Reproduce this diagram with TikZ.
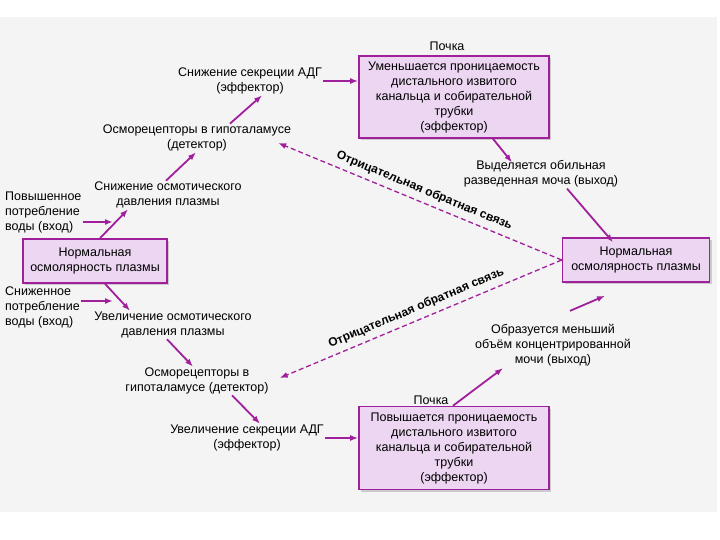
\documentclass[tikz,border=0pt]{standalone}
\usepackage{fontspec}
\setmainfont{Liberation Sans}
\usepackage{tikz}
\usetikzlibrary{arrows.meta,positioning,shadows}
\usepackage{xcolor}
\definecolor{plum}{HTML}{A0209C}
\definecolor{lilac}{HTML}{ECD6F2}
\definecolor{paper}{HTML}{F4F4F4}

\tikzset{
  box/.style={draw=plum, fill=lilac, line width=1.6pt, align=center, inner sep=2pt,
    drop shadow={opacity=0.35, shadow xshift=2pt, shadow yshift=-2pt}},
  lbl/.style={align=center, inner sep=1pt},
  arr/.style={draw=plum, line width=1.8pt, -{Latex[length=8pt,width=6pt]}},
  fb/.style={draw=plum, line width=1.3pt, dashed, dash pattern=on 5pt off 3pt, -{Latex[length=8pt,width=6pt]}}
}

\begin{document}
\begin{tikzpicture}[x=1pt, y=-1pt, font=\fontsize{12.5}{15}\selectfont]
  \useasboundingbox (0,0) rectangle (720,540);
  \fill[paper] (0,17) rectangle (717,512);

  % upper branch
  \node[lbl] (kid1) at (447,46) {Почка};
  \node[box, minimum width=190pt, minimum height=82pt] (box1) at (454,97) {Уменьшается проницаемость\\дистального извитого\\канальца и собирательной\\трубки\\(эффектор)};
  \node[lbl] (adg1) at (250,81) {Снижение секреции АДГ\\(эффектор)};
  \node[lbl] (osm1) at (197,138) {Осморецепторы в гипоталамусе\\(детектор)};
  \node[lbl] (dav1) at (168,195) {Снижение осмотического\\давления плазмы};
  \node[lbl, anchor=west, align=left] (in1) at (4,212) {Повышенное\\потребление\\воды (вход)};
  \node[lbl] (out1) at (541,174) {Выделяется обильная\\разведенная моча (выход)};

  % normal states
  \node[box, minimum width=144pt, minimum height=44pt] (lnorm) at (95,261) {Нормальная\\осмолярность плазмы};
  \node[box, minimum width=147pt, minimum height=44pt] (rnorm) at (636,260) {Нормальная\\осмолярность плазмы};

  % lower branch
  \node[lbl, anchor=west, align=left] (in2) at (4,307) {Сниженное\\потребление\\воды (вход)};
  \node[lbl] (dav2) at (173,325) {Увеличение осмотического\\давления плазмы};
  \node[lbl] (osm2) at (197,381) {Осморецепторы в\\гипоталамусе (детектор)};
  \node[lbl] (adg2) at (247,438) {Увеличение секреции АДГ\\(эффектор)};
  \node[lbl] (kid2) at (431,400) {Почка};
  \node[box, minimum width=190pt, minimum height=83pt] (box2) at (454,448) {Повышается проницаемость\\дистального извитого\\канальца и собирательной\\трубки\\(эффектор)};
  \node[lbl] (out2) at (553,345) {Образуется меньший\\объём концентрированной\\мочи (выход)};

  \coordinate (m1) at (113,222);
  \coordinate (m2) at (113,301);

  \draw[arr] (in1.east |- m1) -- (m1);
  \draw[arr] ([xshift=5pt]lnorm.north) -- ([xshift=-40pt]dav1.south);
  \draw[arr] ([xshift=-2pt]dav1.north) -- ([xshift=-1pt]osm1.south);
  \draw[arr] ([xshift=33pt]osm1.north) -- ([xshift=12pt]adg1.south);
  \draw[arr] (adg1.east) -- (adg1.east -| box1.west);
  \draw[arr] ([xshift=39pt]box1.south) -- ([xshift=-29pt,yshift=-3pt]out1.north);
  \draw[arr] ([xshift=26pt]out1.south) -- ([xshift=-23pt,yshift=-5pt]rnorm.north);

  \draw[arr] (in2.east |- m2) -- (m2);
  \draw[arr] ([xshift=10pt]lnorm.south) -- ([xshift=-43pt]dav2.north);
  \draw[arr] ([xshift=-6pt]dav2.south) -- ([xshift=-4pt]osm2.north);
  \draw[arr] ([xshift=35pt]osm2.south) -- ([xshift=13pt]adg2.north);
  \draw[arr] (adg2.east) -- (adg2.east -| box2.west);
  \draw[arr] ([xshift=-1pt]box2.north) -- ([xshift=-50pt,yshift=-1pt]out2.south);
  \draw[arr] ([xshift=17pt,yshift=12pt]out2.north) -- ([xshift=-31pt,yshift=-13pt]rnorm.south);

  % feedback
  \draw[fb] (rnorm.west) -- ([xshift=-14pt,yshift=-5pt]osm1.east)
    node[midway, sloped, above=2pt, font=\fontsize{12}{14}\selectfont\bfseries] {Отрицательная обратная связь};
  \draw[fb] (rnorm.west) -- ([xshift=10pt,yshift=3pt]osm2.east)
    node[midway, sloped, above=2pt, font=\fontsize{12}{14}\selectfont\bfseries] {Отрицательная обратная связь};
\end{tikzpicture}
\end{document}
